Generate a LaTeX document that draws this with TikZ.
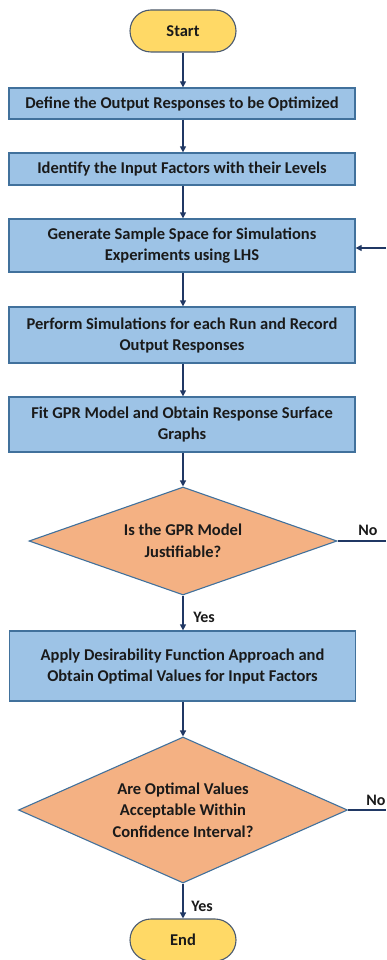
\documentclass[tikz,border=0pt]{standalone}
\usepackage{fontspec}
\setmainfont{Carlito}
\usetikzlibrary{shapes.geometric,arrows.meta}
\definecolor{boxfill}{HTML}{9DC3E6}
\definecolor{boxline}{HTML}{41719C}
\definecolor{decfill}{HTML}{F4B183}
\definecolor{termfill}{HTML}{FFD966}
\definecolor{termline}{HTML}{4A5A70}
\definecolor{arrowc}{HTML}{203864}
\definecolor{txt}{HTML}{1A1A1A}
\begin{document}
\begin{tikzpicture}[x=1pt,y=-1pt,
  font=\fontsize{16.5}{21}\selectfont\bfseries, text=txt,
  procbox/.style={draw=boxline, fill=boxfill, line width=1.3pt, minimum width=346pt, inner sep=0pt, align=center},
  termbox/.style={draw=termline, fill=termfill, line width=1.1pt, minimum width=106pt, minimum height=42pt, rounded corners=21pt, inner sep=0pt},
  decbox/.style={draw=boxline, fill=decfill, line width=1.1pt, diamond, shape aspect=2.8, inner sep=0pt, align=center},
  flow/.style={draw=arrowc, line width=1.3pt, -{Triangle[length=6pt,width=6pt]}},
  plain/.style={draw=arrowc, line width=1.3pt},
  lbl/.style={font=\fontsize{16}{18}\selectfont\bfseries}]
\useasboundingbox (0,0) rectangle (386,960);
\node[termbox] (start) at (183,31) {Start};
\node[procbox, minimum height=31pt] (b1) at (182,103.5) {Define the Output Responses to be Optimized};
\node[procbox, minimum height=32pt] (b2) at (182,169) {Identify the Input Factors with their Levels};
\node[procbox, minimum height=53pt] (b3) at (182,245.5) {Generate Sample Space for Simulations\\Experiments using LHS};
\node[procbox, minimum height=56pt] (b4) at (182,335) {Perform Simulations for each Run and Record\\Output Responses};
\node[procbox, minimum height=55pt] (b5) at (182,424.5) {Fit GPR Model and Obtain Response Surface\\Graphs};
\node[decbox, minimum width=308pt, minimum height=108pt, font=\fontsize{16.5}{22}\selectfont\bfseries] (d1) at (183,541) {Is the GPR Model\\Justifiable?};
\node[procbox, minimum height=70pt] (b6) at (182.5,666) {Apply Desirability Function Approach and\\Obtain Optimal Values for Input Factors};
\node[decbox, minimum width=329pt, minimum height=146pt, shape aspect=2.25, font=\fontsize{16.5}{21.5}\selectfont\bfseries] (d2) at (183,810) {Are Optimal Values\\Acceptable Within\\Confidence Interval?};
\node[termbox] (end) at (183,940) {End};
\coordinate (n1) at (386,541);
\coordinate (n2) at (386,810);
\coordinate (n3) at (386,248);
\draw[flow] (start.south) -- (start.south |- b1.north);
\draw[flow] (b1.south -| start.south) -- (start.south |- b2.north);
\draw[flow] (b2.south -| start.south) -- (start.south |- b3.north);
\draw[flow] (b3.south -| start.south) -- (start.south |- b4.north);
\draw[flow] (b4.south -| start.south) -- (start.south |- b5.north);
\draw[flow] (b5.south -| d1.north) -- (d1.north);
\draw[flow] (d1.south) -- (d1.south |- b6.north);
\draw[flow] (b6.south -| d2.north) -- (d2.north);
\draw[flow] (d2.south) -- (end.north);
\draw[plain] (d1.east) -- (n1);
\draw[plain] (d2.east) -- (n2);
\draw[flow] (n3) -- (n3 -| b3.east);
\node[lbl] (no1) at (368,530) {No};
\node[lbl] (no2) at (376,800) {No};
\node[lbl] (yes1) at (204,617) {Yes};
\node[lbl] (yes2) at (202,906) {Yes};
\end{tikzpicture}
\end{document}
